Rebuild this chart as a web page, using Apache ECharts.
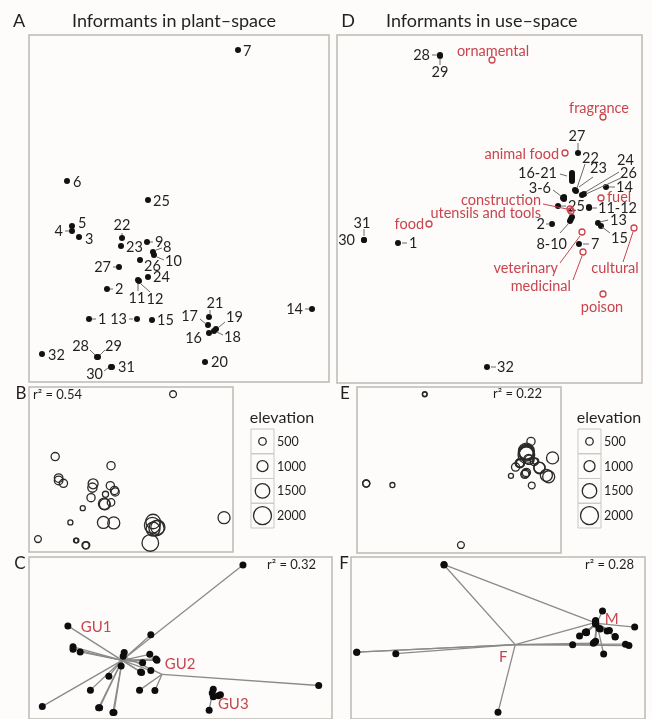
<!DOCTYPE html>
<html>
<head>
<meta charset="utf-8">
<script src="https://cdn.jsdelivr.net/npm/echarts/dist/echarts.min.js"></script>
<style>
  html, body { margin: 0; padding: 0; background: #fdfcfa; }
  #chart { width: 652px; height: 719px; }
</style>
</head>
<body>
<div id="chart"></div>
<script>
// ---- informants (1..32) ----
const informantIds = [1,2,3,4,5,6,7,8,9,10,11,12,13,14,15,16,17,18,19,20,21,22,23,24,25,26,27,28,29,30,31,32];

// ordination scores in plant-space
const plantX = [60,78,50,43,43,38,209,124,118,125,109,110,108,283,123,180,179,185,187,176,180,93,92,119,119,111,90,68,69,82,83,13];
const plantY = [63,93,145,151,156,201,332,130,140,127,102,101,63,73,62,49,57,51,53,20,65,144,136,105,182,122,115,25,25,15,15,28];

// ordination scores in use-space
const useX = [61,215,227,227,226,227,242,233,234,235,252,252,261,269,264,235,235,235,235,235,235,238,239,245,221,247,241,103,103,27,27,150];
const useY = [140,159,185,186,185,184,139,162,164,166,175,176,160,196,157,206,210,208,204,202,207,193,192,188,177,189,230,328,327,143,143,16];

// elevation of each informant's village (m)
const elevation = [150,150,600,650,650,600,400,600,600,600,1050,1000,1150,1150,1150,1400,1700,1600,1450,1800,1500,850,750,500,600,300,600,100,100,450,450,400];

// geographic unit and sex of each informant
const plantGroup = ['GU1','GU1','GU1','GU1','GU1','GU1','GU1','GU1','GU1','GU1','GU1','GU1','GU2','GU2','GU2','GU3','GU3','GU3','GU3','GU3','GU3','GU1','GU2','GU1','GU1','GU1','GU1','GU1','GU1','GU1','GU1','GU1'];
const sex = ['F','F','M','M','M','M','M','F','M','M','M','M','F','M','F','F','M','M','M','M','M','M','M','M','M','M','M','M','F','F','F','F'];

// group centroids
const groupNames = ['GU1','GU2','GU3'];
const groupX = [91,130,179];
const groupY = [127,97,55];
const sexNames = ['F','M'];
const sexX = [165,236];
const sexY = [159,204];

// use categories projected into use-space
const useCategories = ['ornamental','fragrance','animal food','fuel','construction','utensils and tools','food','veterinary','medicinal','cultural','poison'];
const useCatX = [155,266,228,264,233,234,92,245,246,297,266];
const useCatY = [323,266,230,185,174,172,159,151,131,155,89];

// fit statistics and legend ticks
const r2Plant = 0.54, r2Use = 0.22, r2Groups = 0.32, r2Sex = 0.28;
const elevationTicks = [500,1000,1500,2000];

// ---- styling ----
const INK = '#231f20';
const RED = '#c8454e';
const LEAD = '#6b6b6b';
const FONT = 'Lato, "Open Sans", sans-serif';
const BORDER = '#bdb8b3';

// label placement around each dot: [dx, dy, align, leader [x1,y1,x2,y2], text]
const plantLabelLayout = {
  1: [9,0,'left',[3,0,7,0]],
  2: [8,0,'left',[3,0,6,0]],
  3: [6,2,'left'],
  4: [-9,0,'right',[-3,0,-7,0]],
  5: [6,-3,'left'],
  6: [6,1,'left'],
  7: [5,1,'left'],
  8: [10,-5,'left',[3,-2,9,-4]],
  9: [8,0,'left',[3,0,6,0]],
  10: [11,6,'left',[3,2,10,5]],
  11: [-1,18,'center',[0,3,0,11]],
  12: [16,18,'center',[2,3,11,11]],
  13: [-10,0,'right',[-4,0,-8,0]],
  14: [-9,0,'right',[-3,0,-7,0]],
  15: [5,0,'left'],
  16: [-7,5,'right'],
  17: [-10,-9,'right',[-8,-6,-2,-1]],
  18: [10,6,'left',[3,1,9,4]],
  19: [10,-12,'left',[3,-2,9,-7]],
  20: [6,0,'left'],
  21: [6,-14,'center',[1,-3,1,-7]],
  22: [0,-13,'center',[0,-3,0,-5]],
  23: [5,1,'left'],
  24: [5,0,'left'],
  25: [5,1,'left'],
  26: [4,6,'left'],
  27: [-8,0,'right',[-3,0,-6,0]],
  28: [-8,-11,'right',[-2,-2,-7,-7]],
  29: [7,-11,'left',[2,-2,7,-7]],
  30: [-8,7,'right',[-3,1,-7,4]],
  31: [6,0,'left'],
  32: [6,1,'left']
};

const useLabelLayout = {
  1: [11,0,'left',[4,0,9,0]],
  2: [-7,0,'right',[-2,0,-6,0]],
  3: [-13,-10,'right',[-11,-8,-3,-2],'3-6'],
  7: [12,0,'left',[4,0,10,0]],
  8: [-3,23,'right',[-10,12,-1,2],'8-10'],
  11: [9,0,'left',[3,0,8,0],'11-12'],
  13: [12,-3,'left',[2,-1,10,-3]],
  14: [10,0,'left',[3,0,9,0]],
  15: [10,12,'left',[1,1,9,7]],
  16: [-15,-4,'right',[-12,-3,-5,-1],'16-21'],
  22: [7,-32,'left',[2,-2,10,-26]],
  23: [14,-23,'left',[3,-4,17,-14]],
  24: [35,-35,'left',[2,-2,37,-23]],
  25: [10,0,'left',[3,0,8,0]],
  26: [36,-21,'left',[2,0,37,-16]],
  27: [-1,-17,'center',[0,-3,0,-10]],
  28: [-10,0,'right',[-3,0,-8,0]],
  29: [0,16,'center',[0,3,0,9]],
  30: [-9,0,'right'],
  31: [-2,-17,'center',[0,-4,0,-11]],
  32: [10,0,'left',[4,0,9,0]]
};

const useCatLabelLayout = {
  'ornamental': [1,-9,'center'],
  'fragrance': [-4,-9,'center'],
  'animal food': [-6,1,'right'],
  'fuel': [6,-1,'left'],
  'construction': [-29,-9,'right',[-27,-5,-3,0]],
  'utensils and tools': [-30,2,'right'],
  'food': [-5,0,'right'],
  'veterinary': [-24,36,'right',[-22,31,-2,4]],
  'medicinal': [-12,34,'right',[-10,28,-1,4]],
  'cultural': [-19,40,'center',[-11,34,-1,4]],
  'poison': [-1,13,'center']
};

const groupLabelOffset = { GU1: [-26,-33], GU2: [18,-10], GU3: [21,10], F: [-12,13], M: [15,-4] };

// bubble diameter for a given elevation
const sizeOf = e => 4 + e * 0.007;

// panel boxes and their score ranges: A, D, B, E, C, F
const boxes = [
  { left: 29,  top: 35,  width: 300, height: 347, x: [0,300], y: [0,347] },
  { left: 337, top: 35,  width: 305, height: 348, x: [0,305], y: [0,348] },
  { left: 29,  top: 387, width: 204, height: 165, x: [0,296], y: [1,347] },
  { left: 357, top: 387, width: 204, height: 166, x: [15,280], y: [-0.5,342.5] },
  { left: 29,  top: 557, width: 303, height: 166, x: [0,296], y: [1,349] },
  { left: 351, top: 557, width: 294, height: 166, x: [22,278], y: [2,344] }
];

function textStyle(text, x, y, align, size, color) {
  return {
    text, x, y, fill: color || INK, font: size + 'px ' + FONT,
    align, textAlign: align, verticalAlign: 'middle', textVerticalAlign: 'middle'
  };
}

function labelledPoints(gridIdx, names, xs, ys, layout, opts) {
  return {
    type: 'custom', xAxisIndex: gridIdx, yAxisIndex: gridIdx, z: 5, silent: true,
    data: names.map((n, i) => [xs[i], ys[i], i]),
    renderItem: (params, api) => {
      const p = api.coord([api.value(0), api.value(1)]);
      const name = names[api.value(2)];
      const kids = [];
      if (opts.open) {
        kids.push({ type: 'circle', shape: { cx: p[0], cy: p[1], r: 3 },
          style: { fill: 'none', stroke: opts.color, lineWidth: 1.3 } });
      } else {
        kids.push({ type: 'circle', shape: { cx: p[0], cy: p[1], r: 3 },
          style: { fill: '#111' } });
      }
      const L = layout[name];
      if (L) {
        const [dx, dy, align, leader, txt] = L;
        if (leader) {
          kids.push({ type: 'line',
            shape: { x1: p[0] + leader[0], y1: p[1] + leader[1], x2: p[0] + leader[2], y2: p[1] + leader[3] },
            style: { stroke: opts.leadColor, lineWidth: 1 } });
        }
        kids.push({ type: 'text', style: textStyle(txt || String(name), p[0] + dx, p[1] + dy, align, 14.5, opts.color) });
      }
      return { type: 'group', children: kids };
    }
  };
}

function bubbleSeries(gridIdx, xs, ys) {
  return {
    type: 'scatter', xAxisIndex: gridIdx, yAxisIndex: gridIdx, silent: true, z: 3,
    data: xs.map((x, i) => [x, ys[i], elevation[i]]),
    symbol: 'circle',
    symbolSize: v => sizeOf(v[2]),
    itemStyle: { color: 'rgba(0,0,0,0)', borderColor: '#2a2a2a', borderWidth: 1.3, opacity: 1 }
  };
}

function linkSeries(gridIdx, xs, ys, groups, names, hx, hy) {
  return {
    type: 'custom', xAxisIndex: gridIdx, yAxisIndex: gridIdx, z: 2, silent: true,
    data: xs.map((x, i) => { const g = names.indexOf(groups[i]); return [x, ys[i], hx[g], hy[g]]; }),
    renderItem: (params, api) => {
      const a = api.coord([api.value(0), api.value(1)]);
      const b = api.coord([api.value(2), api.value(3)]);
      return { type: 'line', shape: { x1: a[0], y1: a[1], x2: b[0], y2: b[1] },
        style: { stroke: '#8a8a8a', lineWidth: 1.3 } };
    }
  };
}

function dotSeries(gridIdx, xs, ys) {
  return {
    type: 'scatter', xAxisIndex: gridIdx, yAxisIndex: gridIdx, silent: true, z: 4,
    data: xs.map((x, i) => [x, ys[i]]),
    symbol: 'circle', symbolSize: 7,
    itemStyle: { color: '#0d0d0d', opacity: 1 }
  };
}

function hubLabelSeries(gridIdx, names, hx, hy) {
  return {
    type: 'custom', xAxisIndex: gridIdx, yAxisIndex: gridIdx, z: 6, silent: true,
    data: names.map((n, i) => [hx[i], hy[i], i]),
    renderItem: (params, api) => {
      const p = api.coord([api.value(0), api.value(1)]);
      const name = names[api.value(2)];
      const off = groupLabelOffset[name];
      return { type: 'text', style: textStyle(name, p[0] + off[0], p[1] + off[1], 'center', 15, RED) };
    }
  };
}

function elevationLegend(left, centerX) {
  const els = [{ type: 'text', style: textStyle('elevation', centerX, 418, 'center', 16) }];
  elevationTicks.forEach((t, i) => {
    const top = 429 + i * 24.75;
    els.push({ type: 'rect', shape: { x: left, y: top, width: 23, height: 24.75 },
      style: { fill: 'none', stroke: '#cbc6c1', lineWidth: 1 } });
    els.push({ type: 'circle', shape: { cx: left + 11.5, cy: top + 12.4, r: sizeOf(t) / 2 },
      style: { fill: 'none', stroke: '#2a2a2a', lineWidth: 1.3 } });
    els.push({ type: 'text', style: textStyle(String(t), left + 26, top + 12.8, 'left', 12.5) });
  });
  return els;
}

const graphics = [
  { type: 'text', style: textStyle('A', 19, 21, 'center', 18) },
  { type: 'text', style: textStyle('Informants in plant\u2013space', 72, 21, 'left', 18) },
  { type: 'text', style: textStyle('D', 348, 21, 'center', 18) },
  { type: 'text', style: textStyle('Informants in use\u2013space', 386, 21, 'left', 18) },
  { type: 'text', style: textStyle('B', 21, 394, 'center', 17) },
  { type: 'text', style: textStyle('E', 345, 394, 'center', 17) },
  { type: 'text', style: textStyle('C', 20, 564, 'center', 17) },
  { type: 'text', style: textStyle('F', 344, 564, 'center', 17) },
  { type: 'text', style: textStyle('r\u00b2 = ' + r2Plant.toFixed(2), 33, 395, 'left', 13) },
  { type: 'text', style: textStyle('r\u00b2 = ' + r2Use.toFixed(2), 493, 394, 'left', 13) },
  { type: 'text', style: textStyle('r\u00b2 = ' + r2Groups.toFixed(2), 267, 565, 'left', 13) },
  { type: 'text', style: textStyle('r\u00b2 = ' + r2Sex.toFixed(2), 585, 565, 'left', 13) },
  ...elevationLegend(251, 282),
  ...elevationLegend(578, 609)
];

const chart = echarts.init(document.getElementById('chart'), null, { renderer: 'canvas' });
chart.setOption({
  backgroundColor: '#fdfcfa',
  animation: false,
  grid: boxes.map(b => ({ left: b.left, top: b.top, width: b.width, height: b.height,
    show: true, borderColor: BORDER, borderWidth: 1.5, backgroundColor: 'transparent', containLabel: false })),
  xAxis: boxes.map((b, i) => ({ type: 'value', gridIndex: i, min: b.x[0], max: b.x[1], show: false })),
  yAxis: boxes.map((b, i) => ({ type: 'value', gridIndex: i, min: b.y[0], max: b.y[1], show: false })),
  graphic: { elements: graphics },
  series: [
    labelledPoints(0, informantIds, plantX, plantY, plantLabelLayout, { color: INK, leadColor: LEAD }),
    labelledPoints(1, informantIds, useX, useY, useLabelLayout, { color: INK, leadColor: LEAD }),
    labelledPoints(1, useCategories, useCatX, useCatY, useCatLabelLayout, { color: RED, leadColor: RED, open: true }),
    bubbleSeries(2, plantX, plantY),
    bubbleSeries(3, useX, useY),
    linkSeries(4, plantX, plantY, plantGroup, groupNames, groupX, groupY),
    dotSeries(4, plantX, plantY),
    hubLabelSeries(4, groupNames, groupX, groupY),
    linkSeries(5, useX, useY, sex, sexNames, sexX, sexY),
    dotSeries(5, useX, useY),
    hubLabelSeries(5, sexNames, sexX, sexY)
  ]
});
</script>
</body>
</html>
